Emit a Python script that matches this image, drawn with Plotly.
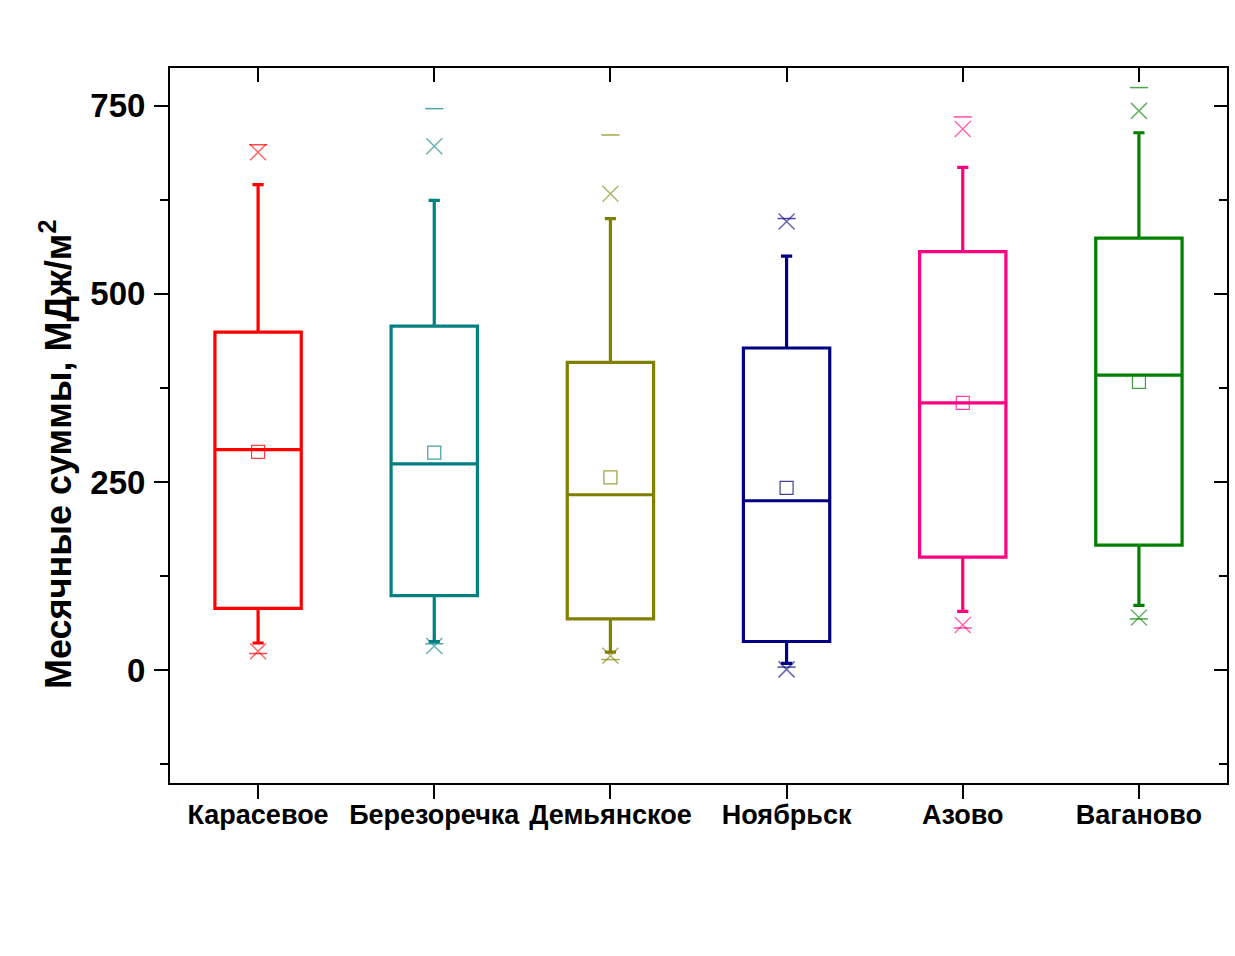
import plotly.graph_objects as go

stations = ["Карасевое", "Березоречка", "Демьянское", "Ноябрьск", "Азово", "Ваганово"]
colors = ["#FF0000", "#008080", "#808000", "#000080", "#FF0080", "#008000"]
q1 = [82, 99, 68, 38, 150, 166]
median = [293, 274, 233, 225, 355, 392]
q3 = [449, 457, 409, 428, 556, 574]
mean = [290, 289, 256, 242, 355, 383]
whisker_low = [36, 38, 24, 9, 78, 86]
whisker_high = [645, 624, 600, 550, 668, 714]
p01 = [25, 32, 19, 1, 60, 70]
p99 = [688, 696, 633, 596, 719, 743]
vmin = [22, 35, 14, 4, 56, 68]
vmax = [698, 746, 711, 600, 735, 774]

y_title = "Месячные суммы, МДж/м<sup>2</sup>"

def rgba(h, a):
    h = h.lstrip("#")
    return "rgba(%d,%d,%d,%s)" % (int(h[0:2], 16), int(h[2:4], 16), int(h[4:6], 16), a)

fig = go.Figure()
idx = list(range(len(stations)))
for i in idx:
    c = colors[i]
    fig.add_trace(go.Box(
        x=[i], q1=[q1[i]], median=[median[i]], q3=[q3[i]],
        lowerfence=[whisker_low[i]], upperfence=[whisker_high[i]],
        width=0.49, whiskerwidth=0.13, boxpoints=False,
        line=dict(color=c, width=3.2), fillcolor="rgba(0,0,0,0)",
        showlegend=False, hoverinfo="skip"))
    fig.add_trace(go.Scatter(
        x=[i], y=[mean[i]], mode="markers",
        marker=dict(symbol="square-open", size=13, color=rgba(c, 0.75), line=dict(width=1.2)),
        showlegend=False, hoverinfo="skip"))
    fig.add_trace(go.Scatter(
        x=[i, i], y=[p01[i], p99[i]], mode="markers",
        marker=dict(symbol="x-thin-open", size=16, color=rgba(c, 0.6), line=dict(width=1.5, color=rgba(c, 0.6))),
        showlegend=False, hoverinfo="skip"))
    fig.add_trace(go.Scatter(
        x=[i, i], y=[vmin[i], vmax[i]], mode="markers",
        marker=dict(symbol="line-ew-open", size=13, color=rgba(c, 0.7), line=dict(width=1.5, color=rgba(c, 0.7))),
        showlegend=False, hoverinfo="skip"))

font_b = dict(family="Liberation Sans, Arial, sans-serif", color="black", weight="bold")

fig.update_layout(
    width=1235, height=956,
    margin=dict(l=170, r=8, t=68, b=173, autoexpand=False),
    paper_bgcolor="white", plot_bgcolor="white",
    boxmode="overlay",
    xaxis=dict(
        range=[-0.5, 5.5], tickmode="array", tickvals=idx, ticktext=stations,
        showgrid=False, zeroline=False, automargin=False,
        showline=True, linecolor="black", linewidth=2, mirror=True,
        ticks="outside", ticklen=14, tickwidth=2, tickcolor="black",
        tickfont=dict(size=27, **font_b), ticklabelstandoff=-7,
    ),
    xaxis2=dict(
        overlaying="x", side="top", range=[-0.5, 5.5], tickmode="array", tickvals=idx,
        showticklabels=False, showgrid=False, zeroline=False, showline=False, automargin=False,
        ticks="inside", ticklen=14, tickwidth=2, tickcolor="black",
    ),
    yaxis=dict(
        range=[-150, 800], tickmode="linear", tick0=0, dtick=250,
        showgrid=False, zeroline=False, automargin=False,
        showline=True, linecolor="black", linewidth=2, mirror=True,
        ticks="outside", ticklen=14, tickwidth=2, tickcolor="black",
        minor=dict(ticks="outside", ticklen=8, tickwidth=2, tickcolor="black", dtick=125, tick0=0, showgrid=False),
        tickfont=dict(size=33, **font_b), ticklabelstandoff=2,
    ),
    yaxis2=dict(
        overlaying="y", side="right", range=[-150, 800], tickmode="linear", tick0=0, dtick=250,
        showticklabels=False, showgrid=False, zeroline=False, automargin=False,
        showline=True, linecolor="black", linewidth=2,
        ticks="inside", ticklen=13, tickwidth=2, tickcolor="black",
        minor=dict(ticks="inside", ticklen=8, tickwidth=2, tickcolor="black", dtick=125, tick0=0, showgrid=False),
    ),
    annotations=[dict(
        text=y_title, textangle=-90, showarrow=False,
        xref="paper", yref="paper", x=-0.108, y=0.46, xanchor="center", yanchor="middle",
        font=dict(size=36, **font_b),
    )],
)
# invisible trace to activate the secondary (mirror) axes
fig.add_trace(go.Scatter(x=[0], y=[0], xaxis="x2", yaxis="y2", mode="markers",
                         marker=dict(opacity=0), showlegend=False, hoverinfo="skip"))

fig.write_html("out.html", config={"displayModeBar": False},
               post_script="document.body.style.margin='0px';")
